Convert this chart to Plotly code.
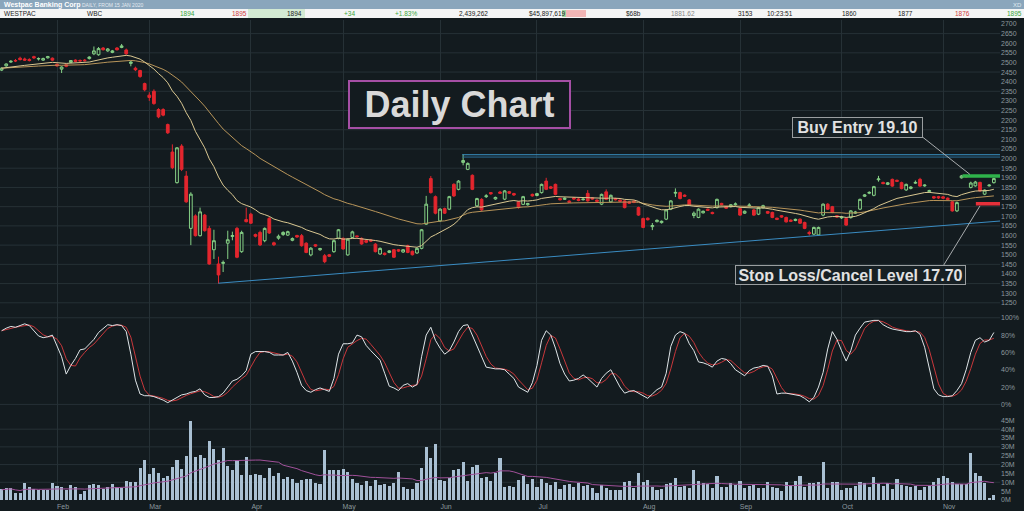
import pandas as pd
import plotly.graph_objects as go

# trading days shown (ASX, weekends and holidays out)
holidays = ["2020-01-27", "2020-04-10", "2020-04-13", "2020-06-08"]
dates = [d for d in pd.bdate_range("2020-01-15", "2020-11-17")
         if d.strftime("%Y-%m-%d") not in holidays]
idx = list(range(len(dates)))

opens = [2460, 2482, 2502, 2510, 2522, 2518, 2515, 2530, 2518, 2512,
         2524, 2522, 2490, 2465, 2488, 2500, 2512, 2510, 2512, 2520,
         2545, 2540, 2575, 2560, 2552, 2575, 2578, 2565, 2495, 2470,
         2458, 2390, 2330, 2350, 2255, 2255, 2177, 2034, 1875, 2065,
         1909, 1637, 1702, 1599, 1706, 1637, 1526, 1452, 1455, 1560,
         1595, 1637, 1516, 1683, 1711, 1605, 1616, 1573, 1689, 1562,
         1586, 1605, 1602, 1575, 1600, 1599, 1560, 1499, 1552, 1526,
         1495, 1500, 1516, 1585, 1585, 1499, 1590, 1598, 1585, 1574,
         1577, 1555, 1504, 1508, 1512, 1526, 1526, 1514, 1547, 1518,
         1509, 1533, 1659, 1896, 1802, 1676, 1740, 1737, 1866, 1840,
         1980, 1944, 1913, 1754, 1788, 1802, 1823, 1790, 1826, 1789,
         1828, 1818, 1775, 1762, 1760, 1814, 1808, 1823, 1883, 1853,
         1866, 1792, 1788, 1779, 1796, 1790, 1786, 1819, 1796, 1784,
         1763, 1827, 1775, 1792, 1784, 1780, 1775, 1779, 1745, 1688,
         1690, 1646, 1672, 1667, 1685, 1737, 1820, 1823, 1810, 1785,
         1704, 1694, 1718, 1737, 1720, 1745, 1767, 1750, 1750, 1760,
         1740, 1716, 1755, 1733, 1711, 1744, 1725, 1720, 1690, 1703,
         1694, 1680, 1678, 1685, 1668, 1616, 1607, 1603, 1706, 1763,
         1750, 1703, 1692, 1688, 1693, 1716, 1737, 1804, 1820, 1809,
         1890, 1876, 1866, 1892, 1887, 1875, 1837, 1845, 1872, 1892,
         1858, 1828, 1802, 1802, 1801, 1794, 1775, 1728, 1900, 1912,
         1850, 1858, 1876, 1815, 1858, 1875]
highs = [2475, 2495, 2512, 2518, 2530, 2525, 2522, 2535, 2526, 2525,
         2534, 2526, 2495, 2480, 2492, 2512, 2516, 2516, 2518, 2532,
         2583, 2580, 2580, 2575, 2565, 2580, 2596, 2572, 2508, 2478,
         2462, 2395, 2345, 2360, 2262, 2262, 2182, 2074, 2060, 2075,
         1935, 1825, 1710, 1745, 1712, 1650, 1630, 1490, 1470, 1625,
         1620, 1645, 1625, 1745, 1718, 1610, 1625, 1642, 1697, 1568,
         1605, 1622, 1625, 1590, 1604, 1608, 1565, 1540, 1556, 1536,
         1504, 1504, 1578, 1634, 1590, 1584, 1625, 1600, 1590, 1578,
         1580, 1560, 1538, 1512, 1524, 1530, 1530, 1530, 1552, 1522,
         1538, 1634, 1806, 1909, 1808, 1742, 1745, 1806, 1872, 1888,
         2021, 1980, 1918, 1796, 1794, 1815, 1826, 1802, 1832, 1836,
         1832, 1822, 1780, 1806, 1770, 1818, 1822, 1870, 1900, 1858,
         1870, 1796, 1798, 1783, 1800, 1794, 1794, 1836, 1800, 1788,
         1818, 1840, 1813, 1796, 1788, 1784, 1778, 1782, 1750, 1693,
         1694, 1665, 1684, 1678, 1737, 1784, 1845, 1828, 1814, 1790,
         1725, 1741, 1730, 1740, 1724, 1792, 1770, 1753, 1764, 1772,
         1745, 1730, 1768, 1738, 1749, 1760, 1728, 1724, 1693, 1706,
         1698, 1684, 1688, 1689, 1672, 1625, 1646, 1646, 1767, 1768,
         1754, 1706, 1702, 1692, 1732, 1728, 1792, 1815, 1830, 1858,
         1910, 1880, 1878, 1896, 1891, 1880, 1870, 1856, 1886, 1900,
         1866, 1838, 1806, 1806, 1805, 1798, 1780, 1776, 1915, 1916,
         1880, 1884, 1880, 1840, 1866, 1900]
lows = [2455, 2478, 2498, 2502, 2510, 2508, 2505, 2518, 2510, 2508,
        2520, 2508, 2478, 2445, 2475, 2496, 2502, 2504, 2505, 2515,
        2538, 2535, 2562, 2555, 2548, 2562, 2574, 2540, 2480, 2455,
        2420, 2350, 2300, 2280, 2210, 2220, 2128, 1945, 1870, 1935,
        1770, 1550, 1595, 1595, 1620, 1448, 1478, 1350, 1410, 1478,
        1575, 1482, 1510, 1668, 1660, 1590, 1545, 1565, 1608, 1545,
        1578, 1598, 1598, 1570, 1588, 1542, 1508, 1492, 1540, 1520,
        1456, 1488, 1510, 1580, 1526, 1495, 1586, 1590, 1552, 1560,
        1566, 1512, 1500, 1496, 1508, 1483, 1514, 1510, 1508, 1496,
        1505, 1528, 1655, 1818, 1710, 1670, 1712, 1732, 1800, 1835,
        1965, 1940, 1836, 1748, 1728, 1795, 1812, 1786, 1816, 1784,
        1816, 1806, 1740, 1758, 1755, 1802, 1804, 1818, 1836, 1842,
        1810, 1782, 1785, 1770, 1786, 1778, 1782, 1776, 1786, 1774,
        1758, 1784, 1770, 1782, 1774, 1741, 1764, 1768, 1702, 1638,
        1678, 1628, 1668, 1662, 1680, 1732, 1800, 1788, 1800, 1754,
        1690, 1690, 1714, 1728, 1710, 1740, 1756, 1738, 1746, 1755,
        1702, 1712, 1748, 1702, 1706, 1740, 1712, 1690, 1680, 1692,
        1667, 1670, 1674, 1660, 1633, 1600, 1602, 1598, 1700, 1733,
        1716, 1692, 1686, 1650, 1688, 1712, 1732, 1800, 1815, 1804,
        1880, 1866, 1862, 1853, 1878, 1840, 1832, 1840, 1868, 1853,
        1854, 1822, 1790, 1790, 1790, 1783, 1724, 1722, 1896, 1900,
        1845, 1854, 1828, 1810, 1855, 1870]
closes = [2470, 2492, 2506, 2508, 2515, 2512, 2510, 2524, 2520, 2520,
          2530, 2512, 2482, 2476, 2480, 2510, 2506, 2508, 2509, 2528,
          2560, 2572, 2566, 2570, 2560, 2566, 2586, 2545, 2502, 2462,
          2427, 2358, 2318, 2286, 2217, 2226, 2134, 1953, 2056, 1944,
          1775, 1815, 1599, 1723, 1625, 1452, 1573, 1395, 1460, 1578,
          1600, 1487, 1616, 1672, 1664, 1596, 1551, 1637, 1613, 1552,
          1596, 1616, 1620, 1584, 1592, 1547, 1512, 1534, 1545, 1532,
          1464, 1492, 1573, 1630, 1530, 1581, 1619, 1594, 1556, 1565,
          1571, 1516, 1533, 1501, 1520, 1487, 1519, 1526, 1512, 1500,
          1533, 1630, 1763, 1823, 1716, 1737, 1716, 1802, 1806, 1883,
          1990, 1975, 1840, 1792, 1733, 1806, 1817, 1798, 1820, 1832,
          1820, 1811, 1745, 1802, 1766, 1806, 1818, 1866, 1840, 1846,
          1814, 1786, 1794, 1773, 1790, 1782, 1789, 1780, 1790, 1778,
          1814, 1788, 1809, 1786, 1778, 1745, 1768, 1772, 1706, 1642,
          1682, 1652, 1679, 1674, 1733, 1780, 1824, 1792, 1804, 1758,
          1716, 1737, 1726, 1731, 1714, 1788, 1760, 1742, 1760, 1764,
          1706, 1726, 1758, 1706, 1745, 1755, 1716, 1694, 1684, 1696,
          1671, 1674, 1684, 1664, 1637, 1610, 1642, 1642, 1763, 1737,
          1720, 1696, 1695, 1654, 1728, 1722, 1788, 1811, 1824, 1854,
          1894, 1870, 1874, 1857, 1882, 1844, 1866, 1852, 1876, 1857,
          1862, 1833, 1795, 1796, 1794, 1787, 1728, 1771, 1910, 1904,
          1873, 1878, 1832, 1836, 1862, 1896]

# volume, millions of shares
volume_m = [5.8, 6.4, 6.7, 3.9, 3.9, 9.3, 7.1, 5.8, 5.2, 5.2,
            5.2, 9.3, 7.7, 7.1, 5.2, 8.2, 7.1, 3.4, 4.9, 8.2,
            8.6, 8.2, 5.8, 7.1, 9.0, 7.1, 6.7, 10.4, 10.1, 10.1,
            17.6, 22.6, 14.2, 18.0, 15.2, 12.0, 13.3, 18.5, 22.6, 17.2,
            24.9, 44.6, 24.2, 25.1, 23.6, 33.0, 28.7, 22.3, 28.9, 19.0,
            16.5, 22.3, 13.9, 24.2, 13.9, 14.2, 13.7, 12.4, 17.6, 13.3,
            15.2, 11.4, 12.7, 11.4, 9.5, 10.9, 11.8, 11.8, 9.2, 9.0,
            27.9, 16.5, 16.5, 16.8, 17.2, 15.8, 11.4, 9.5, 8.2, 10.4,
            7.7, 10.9, 8.2, 8.6, 7.7, 9.5, 15.8, 7.1, 6.2, 6.2,
            9.2, 18.0, 29.6, 23.3, 31.5, 10.9, 10.4, 12.4, 16.5, 17.4,
            21.1, 10.4, 18.5, 19.5, 12.4, 12.7, 10.4, 15.2, 23.6, 7.3,
            7.5, 7.1, 10.9, 13.3, 8.6, 11.4, 7.3, 11.4, 9.5, 8.2,
            10.1, 6.2, 8.2, 8.6, 7.1, 9.5, 7.7, 8.2, 6.4, 3.9,
            8.2, 6.7, 5.2, 5.4, 5.4, 9.9, 10.4, 6.7, 15.2, 10.1,
            10.9, 7.3, 5.4, 5.8, 9.0, 9.5, 12.4, 7.3, 7.7, 6.7,
            17.0, 10.4, 9.2, 8.6, 6.4, 13.3, 7.3, 7.1, 9.2, 8.0,
            10.4, 6.4, 7.7, 8.2, 6.7, 6.4, 9.9, 7.1, 6.7, 4.9,
            9.9, 8.0, 10.4, 13.3, 7.3, 9.2, 9.5, 9.9, 21.1, 6.7,
            9.9, 9.9, 5.2, 6.4, 6.4, 7.7, 10.1, 9.5, 7.3, 12.7,
            9.0, 7.7, 9.5, 5.8, 11.4, 8.0, 7.7, 7.3, 7.7, 5.4,
            7.3, 7.7, 9.9, 12.4, 13.3, 12.4, 9.9, 9.0, 9.0, 9.0,
            26.1, 15.2, 13.3, 9.5, 1.1, 2.4]

# stochastic %K
stoch_k = [85, 88, 90, 89, 91, 93, 91, 85, 79, 77,
           78, 80, 68, 55, 35, 45, 53, 63, 64, 70,
           75, 83, 88, 92, 91, 92, 91, 84, 58, 28,
           12, 10, 10, 9, 7, 5, 2, 5, 8, 11,
           12, 14, 15, 18, 11, 8, 8, 9, 13, 20,
           27, 29, 33, 39, 58, 61, 61, 61, 60, 57,
           57, 57, 60, 50, 37, 22, 16, 14, 17, 19,
           17, 15, 30, 58, 70, 70, 71, 80, 78, 68,
           62, 57, 51, 36, 21, 19, 16, 22, 24, 20,
           23, 55, 80, 89, 74, 65, 58, 62, 72, 84,
           91, 92, 80, 68, 55, 43, 42, 41, 41, 40,
           35, 30, 20, 17, 14, 25, 45, 74, 85, 80,
           65, 47, 35, 27, 28, 30, 34, 30, 25, 20,
           30, 36, 40, 30, 20, 13, 15, 16, 13, 10,
           7, 12, 17, 20, 36, 67, 80, 84, 82, 70,
           62, 49, 48, 46, 43, 50, 53, 52, 47, 40,
           36, 33, 39, 42, 43, 45, 44, 33, 12, 13,
           13, 12, 11, 10, 7, 3, 8, 20, 37, 64,
           84, 75, 62, 50, 62, 80, 88, 95, 96, 97,
           97, 92, 89, 87, 86, 85, 84, 84, 85, 81,
           66, 42, 18, 11, 9, 9, 10, 16, 24, 40,
           60, 74, 77, 72, 74, 83]

price_ticks = list(range(1250, 2701, 50))
price_grid = list(range(1250, 2651, 100))
osc_ticks = [0, 20, 40, 60, 80, 100]
osc_grid = [0, 100]
vol_ticks_m = [0, 5, 10, 15, 20, 25, 30, 35, 40, 45]
vol_grid_m = [10, 20, 30, 40]

buy_level = 1910
stop_level = 1765
resist_levels = [2020, 2008]
trend_start = (47, 1352)
trend_end = (216.7, 1676)

header_cells = [  # x pixel, text, colour
    (2, "WESTPAC", "#222"), (85, "WBC", "#222"), (178, "1894", "#3aa53a"),
    (230, "1895", "#d04040"), (285, "1894", "#222"), (342, "+34", "#3aa53a"),
    (393, "+1.83%", "#3aa53a"), (457, "2,439,262", "#222"),
    (527, "$45,897,619", "#222"), (624, "$68b", "#222"),
    (669, "1881.62", "#888"), (736, "3153", "#222"), (765, "10:23:51", "#222"),
    (840, "1860", "#222"), (896, "1877", "#222"), (953, "1876", "#d04040"),
    (1005, "1895", "#3aa53a")]

BG = "#131b1f"
GRID = "#263136"
TXT = "#8c989e"
XR = [-0.35, 216.33]

s_close = pd.Series(closes)
ema_fast = s_close.ewm(span=20, adjust=False).mean()
ema_slow = s_close.ewm(span=50, adjust=False).mean()
stoch_d = pd.Series(stoch_k).rolling(3, min_periods=1).mean()
volume = [v * 1e6 for v in volume_m]
vol_ma = pd.Series(volume).rolling(20, min_periods=1).mean()

month_idx = [i for i in idx if i > 0 and dates[i].month != dates[i - 1].month]
month_txt = [dates[i].strftime("%b") for i in month_idx]

fig = go.Figure()
fig.add_trace(go.Candlestick(
    x=idx, open=opens, high=highs, low=lows, close=closes,
    increasing=dict(line=dict(color="#86d186", width=1), fillcolor=BG),
    decreasing=dict(line=dict(color="#e3262e", width=1), fillcolor="#e3262e"),
    whiskerwidth=0, xaxis="x", yaxis="y"))
fig.add_trace(go.Scatter(x=idx, y=ema_slow, mode="lines",
                         line=dict(color="#b8955a", width=1), xaxis="x", yaxis="y"))
fig.add_trace(go.Scatter(x=idx, y=ema_fast, mode="lines",
                         line=dict(color="#dac892", width=1), xaxis="x", yaxis="y"))
fig.add_trace(go.Scatter(x=idx, y=stoch_d, mode="lines",
                         line=dict(color="#c9383c", width=1), xaxis="x2", yaxis="y2"))
fig.add_trace(go.Scatter(x=idx, y=stoch_k, mode="lines",
                         line=dict(color="#dfe5e8", width=1), xaxis="x2", yaxis="y2"))
fig.add_trace(go.Bar(x=idx, y=volume, width=0.68, marker=dict(color="#a9c0d3", line_width=0),
                     xaxis="x3", yaxis="y3"))
fig.add_trace(go.Scatter(x=idx, y=vol_ma, mode="lines",
                         line=dict(color="#a1519a", width=1), xaxis="x3", yaxis="y3"))


def py(pix):
    # pixel row -> paper y (plot area spans rows 20..503)
    return (503 - pix) / 483


tick_font = dict(family="Liberation Sans", size=7, color=TXT)
xcommon = dict(range=XR, tickvals=month_idx, showgrid=True, gridcolor=GRID, gridwidth=1,
               zeroline=False, showline=False, ticks="")
ycommon = dict(side="right", showgrid=False, zeroline=False, showline=False, ticks="",
               tickfont=tick_font)

fig.update_layout(
    width=1024, height=511, margin=dict(l=0, r=24, t=20, b=8),
    paper_bgcolor=BG, plot_bgcolor=BG, showlegend=False, bargap=0, boxgap=0.15,
    xaxis=dict(**xcommon, anchor="y", showticklabels=False, rangeslider=dict(visible=False)),
    xaxis2=dict(**xcommon, anchor="y2", matches="x", showticklabels=False),
    xaxis3=dict(**xcommon, anchor="y3", matches="x", ticktext=month_txt,
                tickfont=tick_font, ticklabelshift=6),
    yaxis=dict(**ycommon, domain=[py(312), 1], range=[1208.5, 2720.7],
               tickvals=price_ticks, ticktext=[str(t) for t in price_ticks]),
    yaxis2=dict(**ycommon, domain=[py(412), py(312)], range=[-6.9, 108.05],
                tickvals=osc_ticks, ticktext=[f"{t}%" for t in osc_ticks]),
    yaxis3=dict(**ycommon, domain=[0, py(412)], range=[-0.56e6, 50.6e6],
                tickvals=[v * 1e6 for v in vol_ticks_m], ticktext=[f"{v}M" for v in vol_ticks_m]),
)

shapes = []
for g in price_grid:
    shapes.append(dict(type="line", xref="x domain", yref="y", x0=0, x1=1, y0=g, y1=g,
                       line=dict(color=GRID, width=1), layer="below"))
for g in osc_grid:
    shapes.append(dict(type="line", xref="x2 domain", yref="y2", x0=0, x1=1, y0=g, y1=g,
                       line=dict(color=GRID, width=1), layer="below"))
for g in vol_grid_m:
    shapes.append(dict(type="line", xref="x3 domain", yref="y3", x0=0, x1=1, y0=g * 1e6, y1=g * 1e6,
                       line=dict(color=GRID, width=1), layer="below"))

# resistance, trend line, entry / stop levels
for k, lv in enumerate(resist_levels):
    shapes.append(dict(type="line", xref="x", yref="y", x0=99.8, x1=216.7, y0=lv, y1=lv,
                       line=dict(color="#3a94c8" if k == 0 else "#2a6f99", width=1)))
shapes.append(dict(type="line", xref="x", yref="y", x0=trend_start[0], y0=trend_start[1],
                   x1=trend_end[0], y1=trend_end[1], line=dict(color="#3a8cc2", width=1)))
shapes.append(dict(type="line", xref="x", yref="y", x0=208.2, x1=216.7, y0=buy_level, y1=buy_level,
                   line=dict(color="#2fb34b", width=3.5)))
shapes.append(dict(type="line", xref="x", yref="y", x0=211.1, x1=216.7, y0=stop_level, y1=stop_level,
                   line=dict(color="#e5303a", width=3.5)))
# leader lines from the text boxes
shapes.append(dict(type="line", xref="x", yref="y", x0=199.65, y0=2110, x1=209.8, y1=1918,
                   line=dict(color="#a8acae", width=1)))
shapes.append(dict(type="line", xref="x", yref="y", x0=204.05, y0=1443, x1=212.0, y1=1754,
                   line=dict(color="#a8acae", width=1)))

# header bars
shapes.append(dict(type="rect", xref="paper", yref="paper", x0=0, x1=1.03, y0=py(9), y1=py(-2),
                   fillcolor="#8aa6bc", line_width=0))
shapes.append(dict(type="rect", xref="paper", yref="paper", x0=0, x1=1.03, y0=py(18), y1=py(9),
                   fillcolor="#f4f5f5", line_width=0))
shapes.append(dict(type="rect", xref="paper", yref="paper", x0=0.248, x1=0.305, y0=py(18), y1=py(9),
                   fillcolor="#d3ead3", line_width=0))
shapes.append(dict(type="rect", xref="paper", yref="paper", x0=0.562, x1=0.566, y0=py(17), y1=py(10),
                   fillcolor="#9fd69f", line_width=0))
shapes.append(dict(type="rect", xref="paper", yref="paper", x0=0.566, x1=0.586, y0=py(17), y1=py(10),
                   fillcolor="#f1b5b5", line_width=0))
fig.update_layout(shapes=shapes)

ann = []
ann.append(dict(x=99.3, y=2280, xref="x", yref="y", text="<b>Daily Chart</b>", showarrow=False,
                font=dict(family="Liberation Sans", size=36, color="#d9d9d9"),
                width=215, height=41, borderpad=2, borderwidth=2, bordercolor="#a54fa5",
                bgcolor=BG))
ann.append(dict(x=185.4, y=2160, xref="x", yref="y", text="<b>Buy Entry 19.10</b>", showarrow=False,
                font=dict(family="Liberation Sans", size=16, color="#e2e2e2"),
                width=125, height=15, borderpad=2, borderwidth=1, bordercolor="#9a9ea0",
                bgcolor="#172024"))
ann.append(dict(x=184.0, y=1394, xref="x", yref="y", text="<b>Stop Loss/Cancel Level 17.70</b>",
                showarrow=False, font=dict(family="Liberation Sans", size=16, color="#e2e2e2"),
                width=225, height=14, borderpad=2, borderwidth=1, bordercolor="#9a9ea0",
                bgcolor="#172024"))
head = dict(xref="paper", yref="paper", xanchor="left", yanchor="middle", showarrow=False)
ann.append(dict(head, x=0.002, y=py(4.5), text="<b>Westpac Banking Corp</b>",
                font=dict(family="Liberation Sans", size=7, color="#ffffff")))
ann.append(dict(head, x=0.080, y=py(4.8), text="DAILY, FROM 15 JAN 2020",
                font=dict(family="Liberation Sans", size=5, color="#e4ebf1")))
ann.append(dict(head, x=1.011, y=py(4.5), text="XD",
                font=dict(family="Liberation Sans", size=6, color="#dfe8ef")))
for px, t, c in header_cells:
    ann.append(dict(head, x=px / 1000, y=py(13.5), text=t,
                    font=dict(family="Liberation Sans", size=6.5, color=c)))
fig.update_layout(annotations=ann)

fig.write_html("out.html", config={"displayModeBar": False},
               post_script="document.body.style.margin='0';")
